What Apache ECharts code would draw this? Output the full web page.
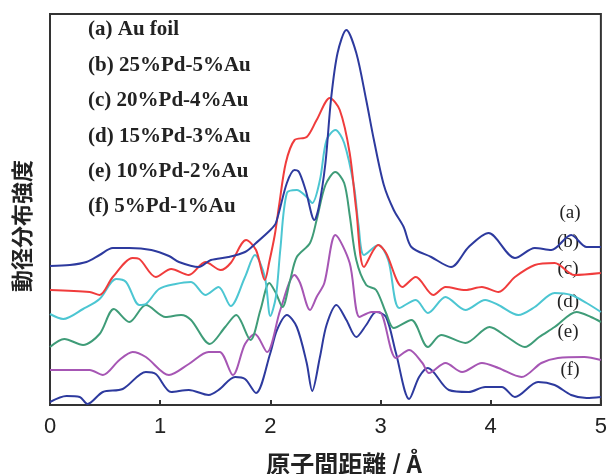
<!DOCTYPE html>
<html><head><meta charset="utf-8">
<script src="https://cdn.jsdelivr.net/npm/echarts@6/dist/echarts.min.js"></script>
<style>html,body{margin:0;padding:0;background:#fff}#c{width:610px;height:474px}</style>
</head><body><div id="c"></div>
<script>
// distance r (Å) vs radial distribution intensity (arbitrary units, offset curves)
const xTicks = [0, 1, 2, 3, 4, 5];
const seriesNames = ['(a) Au foil', '(b) 25%Pd-5%Au', '(c) 20%Pd-4%Au', '(d) 15%Pd-3%Au', '(e) 10%Pd-2%Au', '(f) 5%Pd-1%Au'];
const endTags = ['(a)', '(b)', '(c)', '(d)', '(e)', '(f)'];

const curveA = [[0,139],[0.18,140],[0.33,143],[0.45,150],[0.57,157],[0.72,157],[0.92,155],[1.08,149],[1.17,143],[1.35,138],[1.46,145],[1.62,148],[1.77,153],[1.87,162],[2.00,175],[2.05,182],[2.15,222],[2.22,235],[2.26,233],[2.32,215],[2.40,185],[2.44,198],[2.50,242],[2.55,305],[2.61,352],[2.69,375],[2.78,352],[2.87,305],[2.94,265],[3.03,220],[3.12,195],[3.21,178],[3.28,158],[3.46,148],[3.64,138],[3.80,158],[3.98,172],[4.22,147],[4.40,157],[4.55,155],[4.73,170],[4.87,158],[5.00,158]];
const curveB = [[0,115],[0.36,113],[0.45,110],[0.57,128],[0.75,147],[0.81,146],[0.96,128],[1.10,136],[1.26,130],[1.41,143],[1.55,135],[1.64,142],[1.78,165],[1.87,155],[1.95,125],[1.99,143],[2.04,170],[2.08,200],[2.14,242],[2.22,265],[2.33,268],[2.42,285],[2.54,307],[2.63,295],[2.72,252],[2.78,195],[2.85,138],[2.98,160],[3.05,152],[3.20,118],[3.32,128],[3.48,110],[3.59,118],[3.77,115],[3.92,118],[4.07,113],[4.22,128],[4.40,140],[4.58,142],[4.76,130],[5.00,132]];
const curveC = [[0,91],[0.12,86],[0.30,96],[0.45,106],[0.60,126],[0.69,123],[0.81,100],[0.87,101],[0.99,116],[1.14,121],[1.28,123],[1.41,110],[1.53,118],[1.64,99],[1.77,128],[1.86,150],[1.95,128],[2.00,89],[2.05,108],[2.09,155],[2.15,212],[2.24,215],[2.33,208],[2.38,202],[2.45,225],[2.51,265],[2.59,275],[2.67,262],[2.76,218],[2.80,180],[2.85,150],[2.98,160],[3.07,145],[3.17,97],[3.32,105],[3.43,92],[3.59,108],[3.77,95],[3.95,105],[4.07,100],[4.25,90],[4.40,98],[4.58,112],[4.73,110],[4.87,102],[5.00,93]];
const curveD = [[0,58],[0.13,66],[0.30,60],[0.45,71],[0.58,96],[0.72,83],[0.87,100],[1.05,88],[1.19,90],[1.28,85],[1.45,61],[1.59,78],[1.69,90],[1.82,65],[1.91,95],[1.99,122],[2.05,112],[2.11,98],[2.18,125],[2.24,148],[2.36,162],[2.42,185],[2.50,220],[2.59,233],[2.67,222],[2.72,190],[2.78,145],[2.87,120],[2.96,115],[3.05,92],[3.12,77],[3.28,85],[3.43,58],[3.55,70],[3.77,62],[3.99,78],[4.15,68],[4.31,58],[4.44,68],[4.58,78],[4.78,93],[4.91,88],[5.00,83]];
const curveE = [[0,35],[0.36,35],[0.48,30],[0.63,45],[0.75,53],[0.87,48],[1.08,30],[1.26,41],[1.44,53],[1.54,53],[1.66,30],[1.77,61],[1.86,71],[1.97,53],[2.09,95],[2.22,130],[2.27,122],[2.36,95],[2.42,108],[2.49,122],[2.59,170],[2.72,142],[2.81,88],[2.92,93],[2.99,93],[3.14,47],[3.26,55],[3.38,42],[3.44,32],[3.59,42],[3.74,33],[3.92,42],[4.07,37],[4.28,28],[4.46,42],[4.61,47],[4.85,48],[5.00,45]];
const curveF = [[0,3],[0.15,9],[0.27,8],[0.34,1],[0.48,13],[0.66,16],[0.87,33],[0.96,31],[1.10,13],[1.26,15],[1.44,10],[1.53,15],[1.68,28],[1.77,26],[1.87,12],[2.00,52],[2.06,75],[2.15,90],[2.24,78],[2.33,42],[2.38,14],[2.45,48],[2.51,80],[2.60,100],[2.69,85],[2.78,68],[2.87,80],[2.96,93],[3.05,88],[3.14,52],[3.26,6],[3.35,28],[3.43,37],[3.62,15],[3.80,13],[3.95,18],[4.10,18],[4.22,8],[4.43,23],[4.58,20],[4.73,10],[4.87,7],[5.00,8]];

const curves = [curveA, curveB, curveC, curveD, curveE, curveF];
const colors = ['#2D3A9E', '#F03C3C', '#4CC6D2', '#3F9C78', '#A656B4', '#2D3A9E'];
const tagPos = [[570,213],[568,242],[568,269],[568,302],[568,332],[570,370]];

const chart = echarts.init(document.getElementById('c'));
const option = {
  animation: false,
  backgroundColor: '#fff',
  grid: {left: 50, right: 3, top: 14, bottom: 69, show: true, borderColor: '#333', borderWidth: 2, backgroundColor: 'transparent'},
  xAxis: {
    type: 'value', min: 0, max: 5, interval: 1,
    axisLine: {show: true, lineStyle: {color: '#333', width: 2}},
    axisTick: {show: true, inside: true, length: 5, lineStyle: {color: '#333', width: 2}},
    axisLabel: {fontFamily: 'Liberation Sans', fontSize: 22, color: '#222', margin: 11,
      formatter: v => xTicks.includes(v) ? String(v) : ''},
    splitLine: {show: false}
  },
  yAxis: {
    type: 'value', min: 0, max: 391,
    axisLine: {show: true, lineStyle: {color: '#333', width: 2}},
    axisTick: {show: false}, axisLabel: {show: false}, splitLine: {show: false}
  },
  legend: {
    orient: 'vertical', left: 78, top: 14, itemWidth: 0, itemHeight: 22, itemGap: 13.4,
    icon: 'rect', selectedMode: false, data: seriesNames,
    textStyle: {fontFamily: 'Liberation Serif', fontSize: 21, fontWeight: 'bold', color: '#222', lineHeight: 22}
  },
  graphic: [
    {type: 'text', x: 344, y: 464, style: {text: '原子間距離 / Å', font: 'bold 24px "Noto Sans CJK JP"', fill: '#222', align: 'center', verticalAlign: 'middle'}},
    {type: 'text', x: 22, y: 226, rotation: Math.PI / 2, style: {text: '動径分布強度', font: 'bold 22px "Noto Sans CJK JP"', fill: '#222', align: 'center', verticalAlign: 'middle'}}
  ].concat(endTags.map((t, i) => ({
    type: 'text', x: tagPos[i][0], y: tagPos[i][1],
    style: {text: t, font: '19px "Liberation Serif"', fill: '#222', align: 'center', verticalAlign: 'middle'}
  }))),
  series: curves.map((d, i) => ({
    name: seriesNames[i], type: 'line', data: d, smooth: 0.3, showSymbol: false, symbol: 'none',
    lineStyle: {color: colors[i], width: 2}, itemStyle: {color: colors[i]}, z: 10 - i
  }))
};
chart.setOption(option);
</script></body></html>
